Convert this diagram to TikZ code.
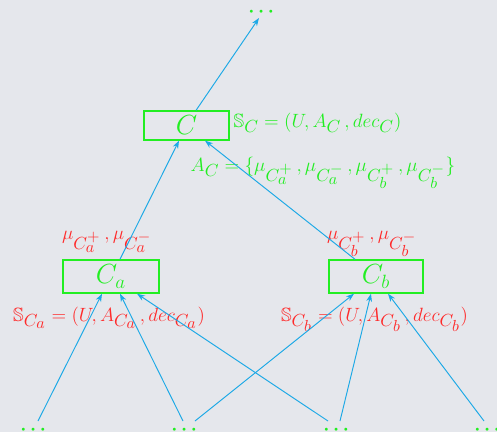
\documentclass[tikz,border=0pt]{standalone}
\usepackage{amsmath,amssymb}
\usepackage{xcolor}
\usetikzlibrary{arrows.meta,calc}
\DeclareMathSizes{12}{12}{10.95}{10}
\definecolor{paperbg}{HTML}{E5E7EC}
\definecolor{linkblue}{HTML}{1DA9E6}
\definecolor{tagred}{HTML}{FF2A2A}
\definecolor{boxgreen}{HTML}{22EE22}

\begin{document}
\begin{tikzpicture}[
    x=0.625pt, y=-0.625pt,
    cluster/.style={draw=boxgreen, line width=0.9pt, text=boxgreen, font=\LARGE, inner sep=0pt},
    link/.style={draw=linkblue, line width=0.6pt, -{Stealth[length=5pt, width=3.6pt]}},
    info/.style={text=boxgreen, font=\large},
    tag/.style={text=tagred, font=\large},
    more/.style={text=boxgreen, inner sep=0pt, font=\large\boldmath},
  ]
  \useasboundingbox[fill=paperbg] (0,0) rectangle (497,432);

  % ---- the parent cluster and what lies above it
  \node[more] (top) at (263,12) {$\cdots$};
  \node[cluster, minimum width=53pt, minimum height=18pt] (C) at (186.5,125.5) {$C$};
  \node[info, anchor=base west] (sC) at (228,127) {$\mathbb{S}_C = (U, A_C\,, dec_C)$};
  \node[info, anchor=base west] (aC) at (185,171)
    {$A_C = \{\mu_{C_a^+}\,, \mu_{C_a^-}\,, \mu_{C_b^+}\,, \mu_{C_b^-}\}$};

  % ---- the two child clusters
  \node[cluster, minimum width=60pt, minimum height=20.6pt] (Ca) at (111,276.5) {$C_a$};
  \node[cluster, minimum width=58.8pt, minimum height=20.6pt] (Cb) at (376,276.5) {$C_b$};
  \node[tag, anchor=base] (mua) at (107,239) {$\mu_{C_a^+}\,, \mu_{C_a^-}$};
  \node[tag, anchor=base] (mub) at (372,239) {$\mu_{C_b^+}\,, \mu_{C_b^-}$};
  \node[tag, anchor=base] (sa) at (109,321) {$\mathbb{S}_{C_a} = (U, A_{C_a}\,, dec_{C_a})$};
  \node[tag, anchor=base] (sb) at (374.5,321) {$\mathbb{S}_{C_b} = (U, A_{C_b}\,, dec_{C_b})$};

  % ---- lower levels
  \node[more] (d1) at (35,430)  {$\cdots$};
  \node[more] (d2) at (186,430) {$\cdots$};
  \node[more] (d3) at (338,430) {$\cdots$};
  \node[more] (d4) at (489,430) {$\cdots$};

  % ---- links
  \draw[link] ($(C.north)+(9.5,0)$) -- ($(top.center)+(-4,6)$);
  \draw[link] ($(Ca.north)+(9,0)$) -- ($(C.south)+(-7.5,0)$);
  \draw[link] ($(Cb.north)+(-21,0)$) -- ($(C.south)+(18.5,0)$);

  \draw[link] ($(d1.center)+(3,-9)$)  -- ($(Ca.south)+(-9,0)$);
  \draw[link] ($(d2.center)+(-3,-9)$) -- ($(Ca.south)+(9,0)$);
  \draw[link] ($(d3.center)+(-10,-9)$) -- ($(Ca.south)+(26,0)$);
  \draw[link] ($(d2.center)+(9,-9)$)  -- ($(Cb.south)+(-22,0)$);
  \draw[link] ($(d3.center)+(2,-9)$)  -- ($(Cb.south)+(-5,0)$);
  \draw[link] ($(d4.center)+(-5,-9)$) -- ($(Cb.south)+(12,0)$);
\end{tikzpicture}
\end{document}
